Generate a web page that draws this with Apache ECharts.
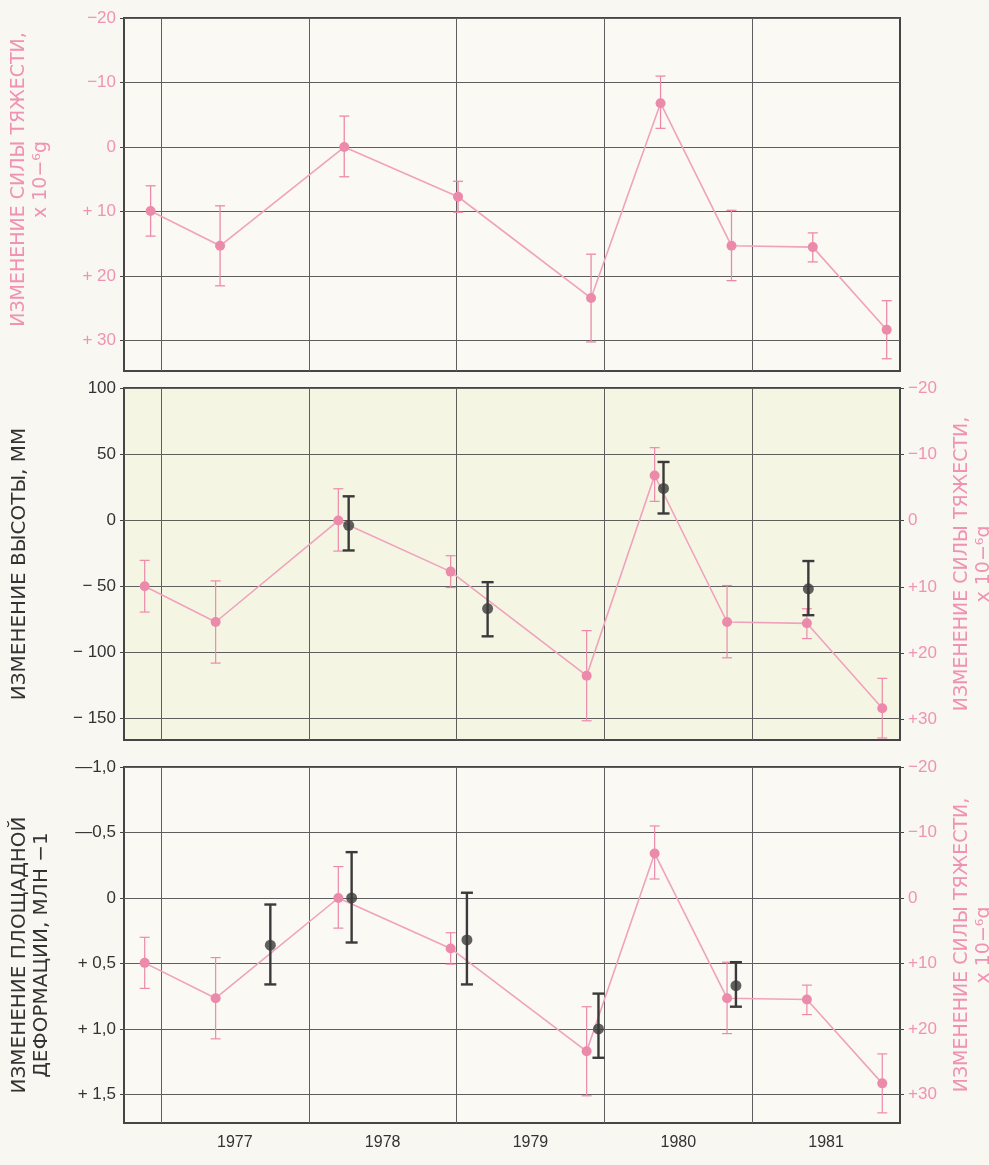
<!DOCTYPE html>
<html><head><meta charset="utf-8">
<script src="https://cdn.jsdelivr.net/npm/echarts@6/dist/echarts.min.js"></script>
<style>html,body{margin:0;padding:0;background:#f8f7f1}#c{width:989px;height:1165px}</style>
</head><body><div id="c"></div>
<script>
// ---- data ----
const yearTicks = [1977, 1978, 1979, 1980, 1981];
const yearLabelPos = [1977.5, 1978.5, 1979.5, 1980.5, 1981.5];
const gravityTicks = [-20, -10, 0, 10, 20, 30];
const heightTicks = [-150, -100, -50, 0, 50, 100];
const deformTicks = [-1.0, -0.5, 0, 0.5, 1.0, 1.5];

// gravity change, x 10^-6 g (top panel positions)
const gravityYearsTop = [1976.93, 1977.40, 1978.24, 1979.01, 1979.91, 1980.38, 1980.86, 1981.41, 1981.91];
// same gravity series as drawn in middle and bottom panels
const gravityYears = [1976.89, 1977.37, 1978.20, 1978.96, 1979.88, 1980.34, 1980.83, 1981.37, 1981.88];
const gravity     = [9.9, 15.3, 0.0, 7.7, 23.4, -6.8, 15.3, 15.5, 28.3];
const gravityLow  = [6.0, 9.1, -4.8, 5.3, 16.6, -11.0, 9.8, 13.3, 23.8];
const gravityHigh = [13.8, 21.5, 4.6, 10.1, 30.2, -2.9, 20.7, 17.8, 32.8];

// height change, mm
const heightYears = [1978.27, 1979.21, 1980.40, 1981.38];
const height      = [-4, -67, 24, -52];
const heightLow   = [-23, -88, 5, -72];
const heightHigh  = [18, -47, 44, -31];

// areal strain change, 10^-6
const deformYears = [1977.74, 1978.29, 1979.07, 1979.96, 1980.89];
const deform      = [0.36, 0.0, 0.32, 1.0, 0.67];
const deformLow   = [0.05, -0.35, -0.04, 0.73, 0.49];
const deformHigh  = [0.66, 0.34, 0.66, 1.22, 0.83];

// ---- styling ----
const PINK = '#ec8aab', PINK_LINE = '#f0a2bc', PINK_TXT = '#f093b2', DARK = '#3a3a3a', GRIDC = '#5e5e5e';
const FONT = 'Liberation Sans, Arial, sans-serif';
const NAMEFONT = 'DejaVu Sans, sans-serif';

const zip2 = (xs, ys) => xs.map((x, i) => [x, ys[i]]);
const zip3 = (xs, a, b) => xs.map((x, i) => [x, a[i], b[i]]);

function errItem(color, cap, w) {
  return function (params, api) {
    const x = api.value(0), lo = api.value(1), hi = api.value(2);
    const p1 = api.coord([x, lo]), p2 = api.coord([x, hi]);
    const st = { stroke: color, lineWidth: w };
    return { type: 'group', children: [
      { type: 'line', shape: { x1: p1[0], y1: p1[1], x2: p2[0], y2: p2[1] }, style: st },
      { type: 'line', shape: { x1: p1[0] - cap, y1: p1[1], x2: p1[0] + cap, y2: p1[1] }, style: st },
      { type: 'line', shape: { x1: p2[0] - cap, y1: p2[1], x2: p2[0] + cap, y2: p2[1] }, style: st }
    ]};
  };
}

const fmtGravLeft = v => Math.abs(v) < 1e-9 ? '0' : (v < 0 ? '−' + (-v) : '+ ' + v);
const fmtGravRight = v => Math.abs(v) < 1e-9 ? '0' : (v < 0 ? '−' + (-v) : '+' + v);
const fmtHeight = v => Math.abs(v) < 1e-9 ? '0' : (v < 0 ? '− ' + (-v) : String(v));
const fmtDeform = v => {
  if (Math.abs(v) < 1e-9) return '0';
  const s = Math.abs(v).toFixed(1).replace('.', ',');
  return v < 0 ? '—' + s : '+ ' + s;
};

const grids = [
  { left: 124, right: 89, top: 18, height: 353 },
  { left: 124, right: 89, top: 388, height: 352 },
  { left: 124, right: 89, top: 767, height: 356 }
].map((g, i) => Object.assign(g, {
  show: true, borderColor: '#454545', borderWidth: 2,
  backgroundColor: i === 1 ? '#f5f5e4' : '#faf9f3', containLabel: false, outerBoundsMode: 'none'
}));

function xAxis(i, showLabels) {
  return {
    type: 'value', gridIndex: i, min: 1976.75, max: 1982.0,
    axisLine: { show: false },
    axisTick: { show: false, customValues: yearTicks },
    splitLine: { show: true, lineStyle: { color: GRIDC, width: 1 } },
    axisLabel: showLabels ? {
      show: true, customValues: yearLabelPos, margin: 12,
      formatter: v => String(Math.floor(v)), color: '#333', fontSize: 16, fontFamily: FONT
    } : { show: false }
  };
}

function yAxis(opt) {
  return {
    type: 'value', gridIndex: opt.grid, position: opt.pos, inverse: !!opt.inverse,
    min: opt.min, max: opt.max,
    name: opt.name, nameLocation: 'middle', nameRotate: 90, nameGap: opt.nameGap,
    nameTextStyle: { color: opt.color, fontSize: opt.nameSize || 19, fontFamily: NAMEFONT, lineHeight: 22, padding: opt.namePad || 0 },
    axisLine: { show: false },
    axisTick: { show: true, inside: false, length: 4, customValues: opt.ticks, lineStyle: { color: '#454545' } },
    splitLine: { show: !!opt.split, lineStyle: { color: GRIDC, width: 1 } },
    axisLabel: { customValues: opt.ticks, formatter: opt.fmt, color: opt.color, fontSize: 17, fontFamily: FONT, margin: 8 }
  };
}

const option = {
  backgroundColor: '#f8f7f1',
  animation: false,
  grid: grids,
  xAxis: [xAxis(0, false), xAxis(1, false), xAxis(2, true)],
  yAxis: [
    yAxis({ grid: 0, pos: 'left', inverse: true, min: -20, max: 34.7, ticks: gravityTicks, fmt: fmtGravLeft, color: PINK_TXT, split: true,
      name: 'ИЗМЕНЕНИЕ СИЛЫ ТЯЖЕСТИ,\nх 10−⁶g', nameGap: 72, namePad: [0, 0, 0, 30] }),
    yAxis({ grid: 1, pos: 'left', min: -166.5, max: 100, ticks: heightTicks, fmt: fmtHeight, color: '#333', split: true,
      name: 'ИЗМЕНЕНИЕ ВЫСОТЫ, ММ', nameGap: 93, nameSize: 20 }),
    yAxis({ grid: 1, pos: 'right', inverse: true, min: -20, max: 33.1, ticks: gravityTicks, fmt: fmtGravRight, color: PINK_TXT, split: false,
      name: 'ИЗМЕНЕНИЕ СИЛЫ ТЯЖЕСТИ,\nх 10−⁶g', nameGap: 51 }),
    yAxis({ grid: 2, pos: 'left', inverse: true, min: -1.0, max: 1.718, ticks: deformTicks, fmt: fmtDeform, color: '#333', split: true,
      name: 'ИЗМЕНЕНИЕ ПЛОЩАДНОЙ\nДЕФОРМАЦИИ, МЛН −1', nameGap: 71, nameSize: 20, namePad: [0, 20, 0, 0] }),
    yAxis({ grid: 2, pos: 'right', inverse: true, min: -20, max: 34.35, ticks: gravityTicks, fmt: fmtGravRight, color: PINK_TXT, split: false,
      name: 'ИЗМЕНЕНИЕ СИЛЫ ТЯЖЕСТИ,\nх 10−⁶g', nameGap: 51 })
  ],
  series: [
    // top panel
    { type: 'custom', xAxisIndex: 0, yAxisIndex: 0, z: 2, renderItem: errItem(PINK, 5, 1.3),
      data: zip3(gravityYearsTop, gravityLow, gravityHigh), encode: { x: 0, y: [1, 2] } },
    { type: 'line', xAxisIndex: 0, yAxisIndex: 0, z: 3, data: zip2(gravityYearsTop, gravity),
      symbol: 'circle', symbolSize: 10, itemStyle: { color: PINK }, lineStyle: { color: PINK_LINE, width: 1.6 } },
    // middle panel
    { type: 'custom', xAxisIndex: 1, yAxisIndex: 2, z: 2, renderItem: errItem(PINK, 5, 1.2),
      data: zip3(gravityYears, gravityLow, gravityHigh), encode: { x: 0, y: [1, 2] } },
    { type: 'line', xAxisIndex: 1, yAxisIndex: 2, z: 3, data: zip2(gravityYears, gravity),
      symbol: 'circle', symbolSize: 10, itemStyle: { color: PINK }, lineStyle: { color: PINK_LINE, width: 1.6 } },
    { type: 'custom', xAxisIndex: 1, yAxisIndex: 1, z: 4, renderItem: errItem(DARK, 6, 2.4),
      data: zip3(heightYears, heightLow, heightHigh), encode: { x: 0, y: [1, 2] } },
    { type: 'scatter', xAxisIndex: 1, yAxisIndex: 1, z: 5, data: zip2(heightYears, height),
      symbol: 'circle', symbolSize: 11, itemStyle: { color: DARK } },
    // bottom panel
    { type: 'custom', xAxisIndex: 2, yAxisIndex: 4, z: 2, renderItem: errItem(PINK, 5, 1.2),
      data: zip3(gravityYears, gravityLow, gravityHigh), encode: { x: 0, y: [1, 2] } },
    { type: 'line', xAxisIndex: 2, yAxisIndex: 4, z: 3, data: zip2(gravityYears, gravity),
      symbol: 'circle', symbolSize: 10, itemStyle: { color: PINK }, lineStyle: { color: PINK_LINE, width: 1.6 } },
    { type: 'custom', xAxisIndex: 2, yAxisIndex: 3, z: 4, renderItem: errItem(DARK, 6, 2.4),
      data: zip3(deformYears, deformLow, deformHigh), encode: { x: 0, y: [1, 2] } },
    { type: 'scatter', xAxisIndex: 2, yAxisIndex: 3, z: 5, data: zip2(deformYears, deform),
      symbol: 'circle', symbolSize: 11, itemStyle: { color: DARK } }
  ]
};

const chart = echarts.init(document.getElementById('c'), null, { renderer: 'canvas' });
chart.setOption(option);
</script>
</body></html>
